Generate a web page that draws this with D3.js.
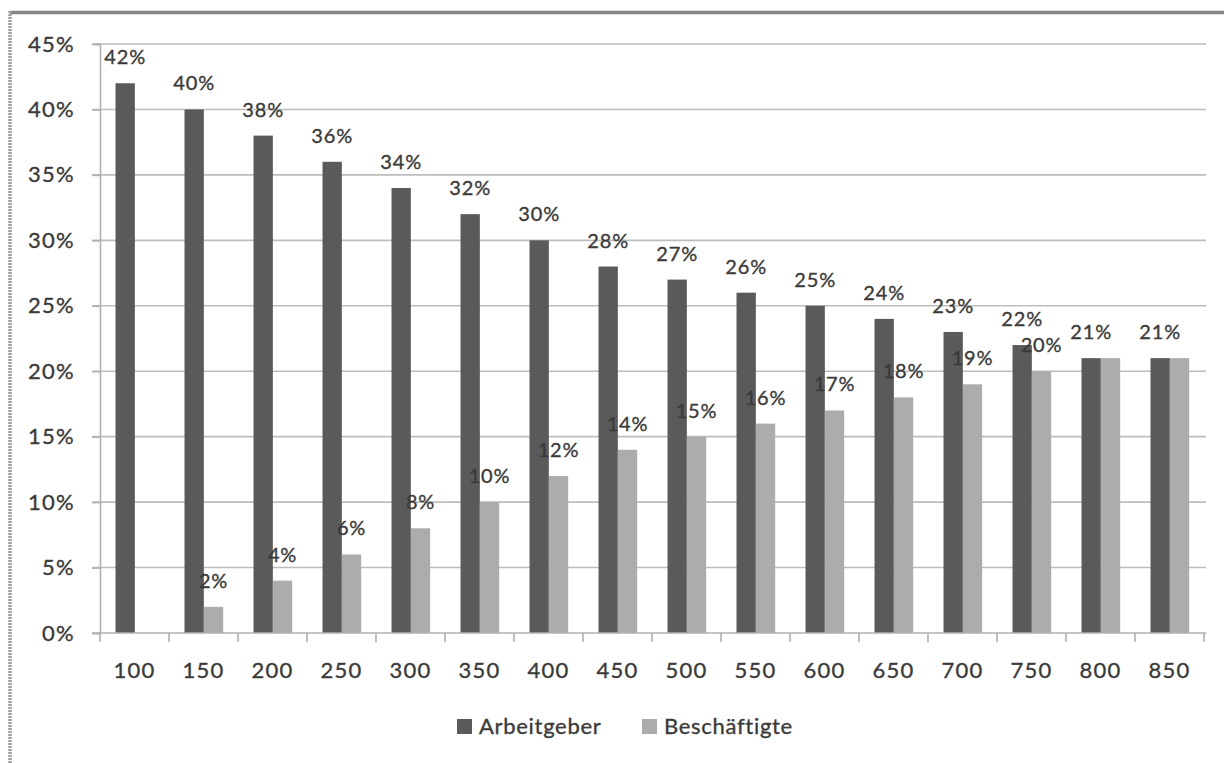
<!DOCTYPE html>
<html>
<head>
<meta charset="utf-8">
<script src="https://cdn.jsdelivr.net/npm/d3@7"></script>
<style>
  html, body { margin: 0; padding: 0; background: #fff; }
  svg { display: block; }
  text { font-family: Lato, "Open Sans", sans-serif; fill: #3a3a3a; stroke: #3a3a3a; stroke-width: 0.35px; }
</style>
</head>
<body>
<svg id="chart" width="1224" height="763"></svg>
<script>
const categories = ["100","150","200","250","300","350","400","450","500","550","600","650","700","750","800","850"];
const arbeitgeber = [42,40,38,36,34,32,30,28,27,26,25,24,23,22,21,21];
const beschaeftigte = [null,2,4,6,8,10,12,14,15,16,17,18,19,20,21,21];
const yTicks = [0,5,10,15,20,25,30,35,40,45];
const seriesNames = ["Arbeitgeber","Beschäftigte"];
const colors = ["#5a5a5a","#acacac"];

const svg = d3.select("#chart");

// outer frame (top and left edges)
svg.append("line").attr("x1",10).attr("x2",1224).attr("y1",12.5).attr("y2",12.5)
  .attr("stroke","#858585").attr("stroke-width",3.5);
svg.append("line").attr("x1",10).attr("x2",10).attr("y1",11).attr("y2",763)
  .attr("stroke","#a0a0a0").attr("stroke-width",3.5).attr("stroke-dasharray","2,1");

const plot = {left:100, right:1204, top:44, bottom:633};
const x = d3.scaleBand().domain(categories).range([plot.left, plot.right]).padding(0);
const y = d3.scaleLinear().domain([0,45]).range([plot.bottom, plot.top]);

// gridlines
svg.append("g").selectAll("line").data(yTicks.filter(d=>d>0)).join("line")
  .attr("x1",plot.left-8).attr("x2",plot.right+2)
  .attr("y1",d=>y(d)).attr("y2",d=>y(d))
  .attr("stroke","#bdbdbd").attr("stroke-width",1.6);

// y axis
const yAxis = svg.append("g").attr("transform",`translate(${plot.left},0)`)
  .call(d3.axisLeft(y).tickValues(yTicks).tickFormat(d=>d+"%").tickSize(8).tickPadding(17));
yAxis.select(".domain").attr("stroke","#b0b0b0").attr("stroke-width",1.6);
yAxis.selectAll(".tick line").attr("stroke","#b0b0b0").attr("stroke-width",1.6);
yAxis.selectAll(".tick text").attr("font-size",22).attr("letter-spacing",1.3)
  .attr("fill","#3a3a3a").style("font-family","Lato, sans-serif");

// bars
const bw = x.bandwidth();
const barW = bw*0.28;
const off = bw*0.225;
const series = [arbeitgeber, beschaeftigte];
series.forEach((vals, si) => {
  const data = categories.map((c,i)=>({c, v: vals[i], i}));
  svg.append("g").selectAll("rect").data(data.filter(d=>d.v!=null && d.v>0)).join("rect")
    .attr("x",d=>x(d.c)+off+si*barW)
    .attr("width",barW)
    .attr("y",d=>y(d.v))
    .attr("height",d=>y(0)-y(d.v))
    .attr("fill",colors[si]);
});

// x axis
const xAxisLine = svg.append("g");
xAxisLine.append("line").attr("x1",plot.left-8).attr("x2",plot.right+2)
  .attr("y1",y(0)).attr("y2",y(0)).attr("stroke","#b0b0b0").attr("stroke-width",1.6);
const bounds = categories.map(c=>x(c)).concat([plot.right]);
xAxisLine.selectAll("line.t").data(bounds).join("line").attr("class","t")
  .attr("x1",d=>d).attr("x2",d=>d).attr("y1",y(0)).attr("y2",y(0)+9)
  .attr("stroke","#b0b0b0").attr("stroke-width",1.6);
svg.append("g").selectAll("text").data(categories).join("text")
  .attr("x",d=>x(d)+bw/2).attr("y",678)
  .attr("text-anchor","middle").attr("font-size",22).attr("letter-spacing",1.3)
  .text(d=>d);

// data labels
series.forEach((vals, si) => {
  const data = categories.map((c,i)=>({c, v: vals[i], i}));
  const shown = data.filter(d => d.v!=null && d.v>0 && !(si===1 && d.v===arbeitgeber[d.i]));
  svg.append("g").selectAll("text").data(shown).join("text")
    .attr("x",d=>x(d.c)+off+si*barW+barW/2)
    .attr("y",d=>y(d.v)-19)
    .attr("text-anchor","middle").attr("font-size",20).attr("letter-spacing",0.8)
    .text(d=>d.v+"%");
});

// legend
const legend = svg.append("g");
const legendX = [457, 642];
seriesNames.forEach((n,i)=>{
  legend.append("rect").attr("x",legendX[i]).attr("y",719).attr("width",15).attr("height",15).attr("fill",colors[i]);
  legend.append("text").attr("x",legendX[i]+22).attr("y",734).attr("font-size",22).attr("letter-spacing",0.7).text(n);
});
</script>
</body>
</html>
